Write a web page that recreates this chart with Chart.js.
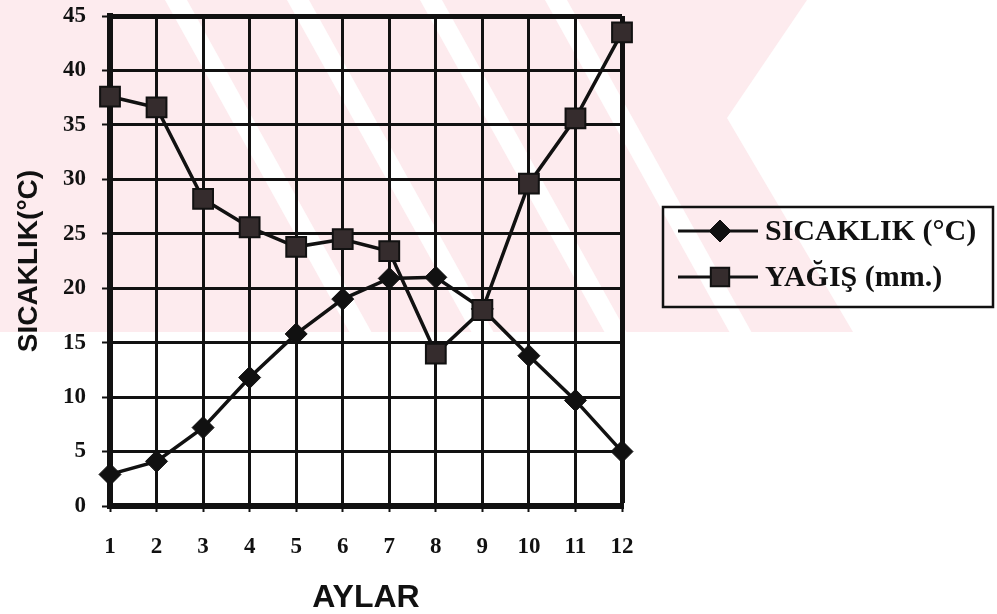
<!DOCTYPE html>
<html>
<head>
<meta charset="utf-8">
<script src="https://cdn.jsdelivr.net/npm/chart.js@4/dist/chart.umd.min.js"></script>
<style>
html,body{margin:0;padding:0;background:#fff;}
#wrap{width:997px;height:614px;position:relative;}
</style>
</head>
<body>
<div id="wrap"><canvas id="c" width="997" height="614"></canvas></div>
<script>
// ---- data ----
const months = ['1','2','3','4','5','6','7','8','9','10','11','12'];
const sicaklik = [2.9, 4.1, 7.2, 11.8, 15.8, 19.0, 20.9, 21.0, 18.1, 13.8, 9.7, 5.0];
const yagis = [37.6, 36.6, 28.2, 25.6, 23.8, 24.5, 23.4, 14.0, 18.0, 29.6, 35.6, 43.5];
const yTickValues = [0, 5, 10, 15, 20, 25, 30, 35, 40, 45];
const seriesNames = ['SICAKLIK (°C)', 'YAĞIŞ (mm.)'];
const yTitle = 'SICAKLIK(°C)';
const xTitle = 'AYLAR';

// ---- decoration: faint scanned watermark ----
const watermark = {
  id: 'watermark',
  beforeDraw(chart) {
    const ctx = chart.ctx;
    ctx.save();
    ctx.fillStyle = '#ffffff';
    ctx.fillRect(0, 0, chart.width, chart.height);
    ctx.beginPath();
    ctx.rect(0, 0, chart.width, 332);
    ctx.clip();
    ctx.fillStyle = '#fdebee';
    ctx.beginPath();
    ctx.moveTo(0, 0); ctx.lineTo(807, 0); ctx.lineTo(727, 118);
    ctx.lineTo(853, 332); ctx.lineTo(0, 332); ctx.closePath();
    ctx.fill();
    ctx.fillStyle = '#ffffff';
    const slope = 1.8, w = 22;
    [165, 287, 420, 545].forEach(x0 => {
      ctx.beginPath();
      ctx.moveTo(x0, 0); ctx.lineTo(x0 + w, 0);
      ctx.lineTo(x0 + w + 332 / slope, 332); ctx.lineTo(x0 + 332 / slope, 332);
      ctx.closePath(); ctx.fill();
    });
    ctx.restore();
  }
};

// ---- custom legend box ----
const legendBox = {
  id: 'legendBox',
  afterDraw(chart) {
    const ctx = chart.ctx;
    ctx.save();
    ctx.strokeStyle = '#111';
    ctx.lineWidth = 2.5;
    ctx.strokeRect(663, 207, 330, 100);
    const rows = [231, 277];
    chart.data.datasets.forEach((ds, i) => {
      const y = rows[i];
      ctx.strokeStyle = ds.borderColor;
      ctx.lineWidth = 3;
      ctx.beginPath(); ctx.moveTo(678, y); ctx.lineTo(758, y); ctx.stroke();
      ctx.fillStyle = ds.pointBackgroundColor;
      ctx.strokeStyle = ds.pointBorderColor;
      ctx.lineWidth = ds.pointBorderWidth;
      Chart.helpers.drawPoint(ctx, {
        pointStyle: ds.pointStyle,
        radius: ds.pointStyle === 'rect' ? 13 : 11,
        rotation: 0,
        borderWidth: ds.pointBorderWidth
      }, 720, y);
      ctx.fillStyle = '#111';
      ctx.font = 'bold 30px "Liberation Serif"';
      ctx.textAlign = 'left';
      ctx.textBaseline = 'middle';
      ctx.fillText(ds.label, 765, y + 1);
    });
    ctx.restore();
  }
};

const ctx = document.getElementById('c').getContext('2d');
new Chart(ctx, {
  type: 'line',
  data: {
    labels: months,
    datasets: [
      {
        label: seriesNames[0],
        data: sicaklik,
        borderColor: '#111',
        borderWidth: 3.5,
        pointStyle: 'rectRot',
        pointRadius: 11,
        pointBackgroundColor: '#111',
        pointBorderColor: '#111',
        pointBorderWidth: 1,
        tension: 0,
        clip: false,
        order: 1
      },
      {
        label: seriesNames[1],
        data: yagis,
        borderColor: '#111',
        borderWidth: 3.5,
        pointStyle: 'rect',
        pointRadius: 14,
        pointBackgroundColor: '#352c2d',
        pointBorderColor: '#111',
        pointBorderWidth: 2,
        tension: 0,
        clip: false,
        order: 0
      }
    ]
  },
  options: {
    responsive: false,
    animation: false,
    devicePixelRatio: 1,
    layout: { padding: { top: 12, right: 375, bottom: 0, left: 0 } },
    plugins: { legend: { display: false }, tooltip: { enabled: false } },
    scales: {
      x: {
        type: 'category',
        offset: false,
        afterFit(scale) { scale.height = 108; scale.paddingLeft = 0; scale.paddingRight = 0; },
        grid: {
          offset: false,
          color: '#111',
          lineWidth: c => (c.index === months.length - 1 ? 5 : 3),
          drawTicks: true,
          tickLength: 6,
          tickWidth: 2,
          tickColor: '#111'
        },
        border: { display: true, color: '#111', width: 6 },
        ticks: {
          color: '#111',
          padding: 21,
          maxRotation: 0,
          autoSkip: false,
          font: { family: '"Liberation Serif"', weight: 'bold', size: 23, lineHeight: 1.2 }
        },
        title: {
          display: true,
          text: xTitle,
          color: '#111',
          padding: { top: 0, bottom: -3 },
          font: { family: '"Liberation Sans"', weight: 'bold', size: 32, lineHeight: 1.2 }
        }
      },
      y: {
        min: 0,
        max: 45,
        afterFit(scale) { scale.width = 110; scale.paddingTop = 0; scale.paddingBottom = 0; },
        afterBuildTicks(scale) { scale.ticks = yTickValues.map(v => ({ value: v })); },
        grid: {
          color: '#111',
          lineWidth: c => (c.tick && c.tick.value === 45 ? 5 : 3),
          drawTicks: true,
          tickLength: 8,
          tickWidth: 2,
          tickColor: '#111'
        },
        border: { display: true, color: '#111', width: 6 },
        ticks: {
          color: '#111',
          padding: 16,
          font: { family: '"Liberation Serif"', weight: 'bold', size: 23, lineHeight: 1.0 }
        },
        title: {
          display: true,
          text: yTitle,
          color: '#111',
          padding: { top: 12, bottom: 0 },
          font: { family: '"Liberation Sans"', weight: 'bold', size: 28, lineHeight: 1.2 }
        }
      }
    }
  },
  plugins: [watermark, legendBox]
});
</script>
</body>
</html>
